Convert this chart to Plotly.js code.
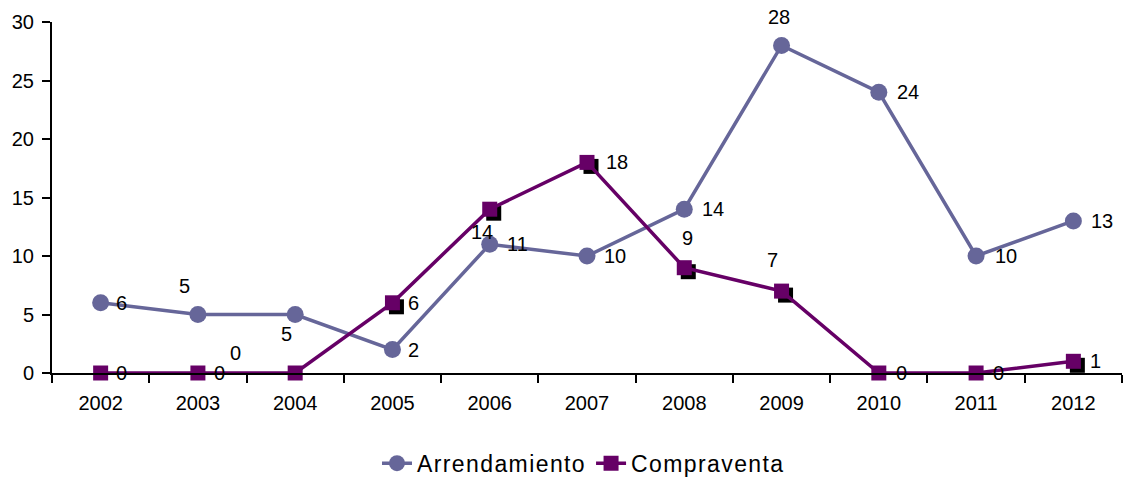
<!DOCTYPE html>
<html>
<head>
<meta charset="utf-8">
<script src="https://cdn.plot.ly/plotly-3.0.1.min.js"></script>
<style>html,body{margin:0;padding:0;background:#fff;}#chart{width:1133px;height:479px;}
.legendtext{letter-spacing:1.4px;}</style>
</head>
<body>
<div id="chart"></div>
<script>
const years = ['2002','2003','2004','2005','2006','2007','2008','2009','2010','2011','2012'];
const arrendamiento = [6, 5, 5, 2, 11, 10, 14, 28, 24, 10, 13];
const compraventa = [0, 0, 0, 6, 14, 18, 9, 7, 0, 0, 1];

// label offsets in pixels (style, not data)
const arrShift = [[21,0],[-13,29],[-9,-19],[21,0],[28,0],[28,0],[29,0],[-3,28],[29,0],[30,0],[29,0]];
const comShift = [[21,0],[22,0],[-60,20],[21,0],[-8,-23],[30,0],[3,30],[-9,31],[23,0],[22,0],[22,0]];

const ARR_COLOR = '#666699';
const COM_COLOR = '#660066';
const FONT = 'Liberation Sans, Arial, sans-serif';

const xr = [-0.5, 10.5];
const yr = [0, 30];
const pxX = 1070 / 11, pxY = 351 / 30;
const dx = 4 / pxX, dy = 4 / pxY;

const traces = [
  {x: years, y: arrendamiento, name: 'Arrendamiento', type: 'scatter', mode: 'lines+markers',
    line: {color: ARR_COLOR, width: 3.5}, marker: {symbol: 'circle', size: 17, color: ARR_COLOR},
    xaxis: 'x', yaxis: 'y', cliponaxis: false},
  {x: years, y: compraventa, name: 'shadow', type: 'scatter', mode: 'markers', showlegend: false,
    marker: {symbol: 'square', size: 15, color: '#000000'}, hoverinfo: 'skip',
    xaxis: 'x2', yaxis: 'y2', cliponaxis: false},
  {x: years, y: compraventa, name: 'Compraventa', type: 'scatter', mode: 'lines+markers',
    line: {color: COM_COLOR, width: 3.5}, marker: {symbol: 'square', size: 15, color: COM_COLOR},
    xaxis: 'x3', yaxis: 'y3', cliponaxis: false}
];

const annotations = [];
for (let i = 0; i < years.length; i++) {
  annotations.push({x: i, y: arrendamiento[i], xref: 'x', yref: 'y', text: String(arrendamiento[i]),
    showarrow: false, xshift: arrShift[i][0], yshift: arrShift[i][1], font: {family: FONT, size: 20, color: '#000'}});
  annotations.push({x: i, y: compraventa[i], xref: 'x', yref: 'y', text: String(compraventa[i]),
    showarrow: false, xshift: comShift[i][0], yshift: comShift[i][1], font: {family: FONT, size: 20, color: '#000'}});
}

const hidden = {visible: false, fixedrange: true};
const layout = {
  width: 1133, height: 479,
  margin: {l: 52, r: 11, t: 22, b: 106},
  paper_bgcolor: '#ffffff', plot_bgcolor: '#ffffff',
  font: {family: FONT, size: 20, color: '#000'},
  showlegend: true,
  legend: {orientation: 'h', xref: 'container', yref: 'container', x: 0.515, xanchor: 'center', y: 0.033, yanchor: 'middle',
    font: {family: FONT, size: 23, color: '#000'}, traceorder: 'normal'},
  xaxis: {type: 'category', range: xr, tickson: 'boundaries', ticks: 'outside', ticklen: 8, tickwidth: 2,
    tickcolor: '#000', showline: true, linecolor: '#000', linewidth: 2, showgrid: false, zeroline: false,
    ticklabelstandoff: 11, tickfont: {family: FONT, size: 20, color: '#000'}},
  yaxis: {range: yr, dtick: 5, ticks: 'outside', ticklen: 8, tickwidth: 2, tickcolor: '#000',
    showline: true, linecolor: '#000', linewidth: 2, showgrid: false, zeroline: false,
    ticklabelstandoff: 4, tickfont: {family: FONT, size: 20, color: '#000'}},
  xaxis2: Object.assign({type: 'category', overlaying: 'x', range: [xr[0] - dx, xr[1] - dx]}, hidden),
  yaxis2: Object.assign({overlaying: 'y', range: [yr[0] + dy, yr[1] + dy]}, hidden),
  xaxis3: Object.assign({type: 'category', overlaying: 'x', range: xr}, hidden),
  yaxis3: Object.assign({overlaying: 'y', range: yr}, hidden),
  annotations: annotations
};

Plotly.newPlot('chart', traces, layout, {displayModeBar: false, staticPlot: true});
</script>
</body>
</html>
